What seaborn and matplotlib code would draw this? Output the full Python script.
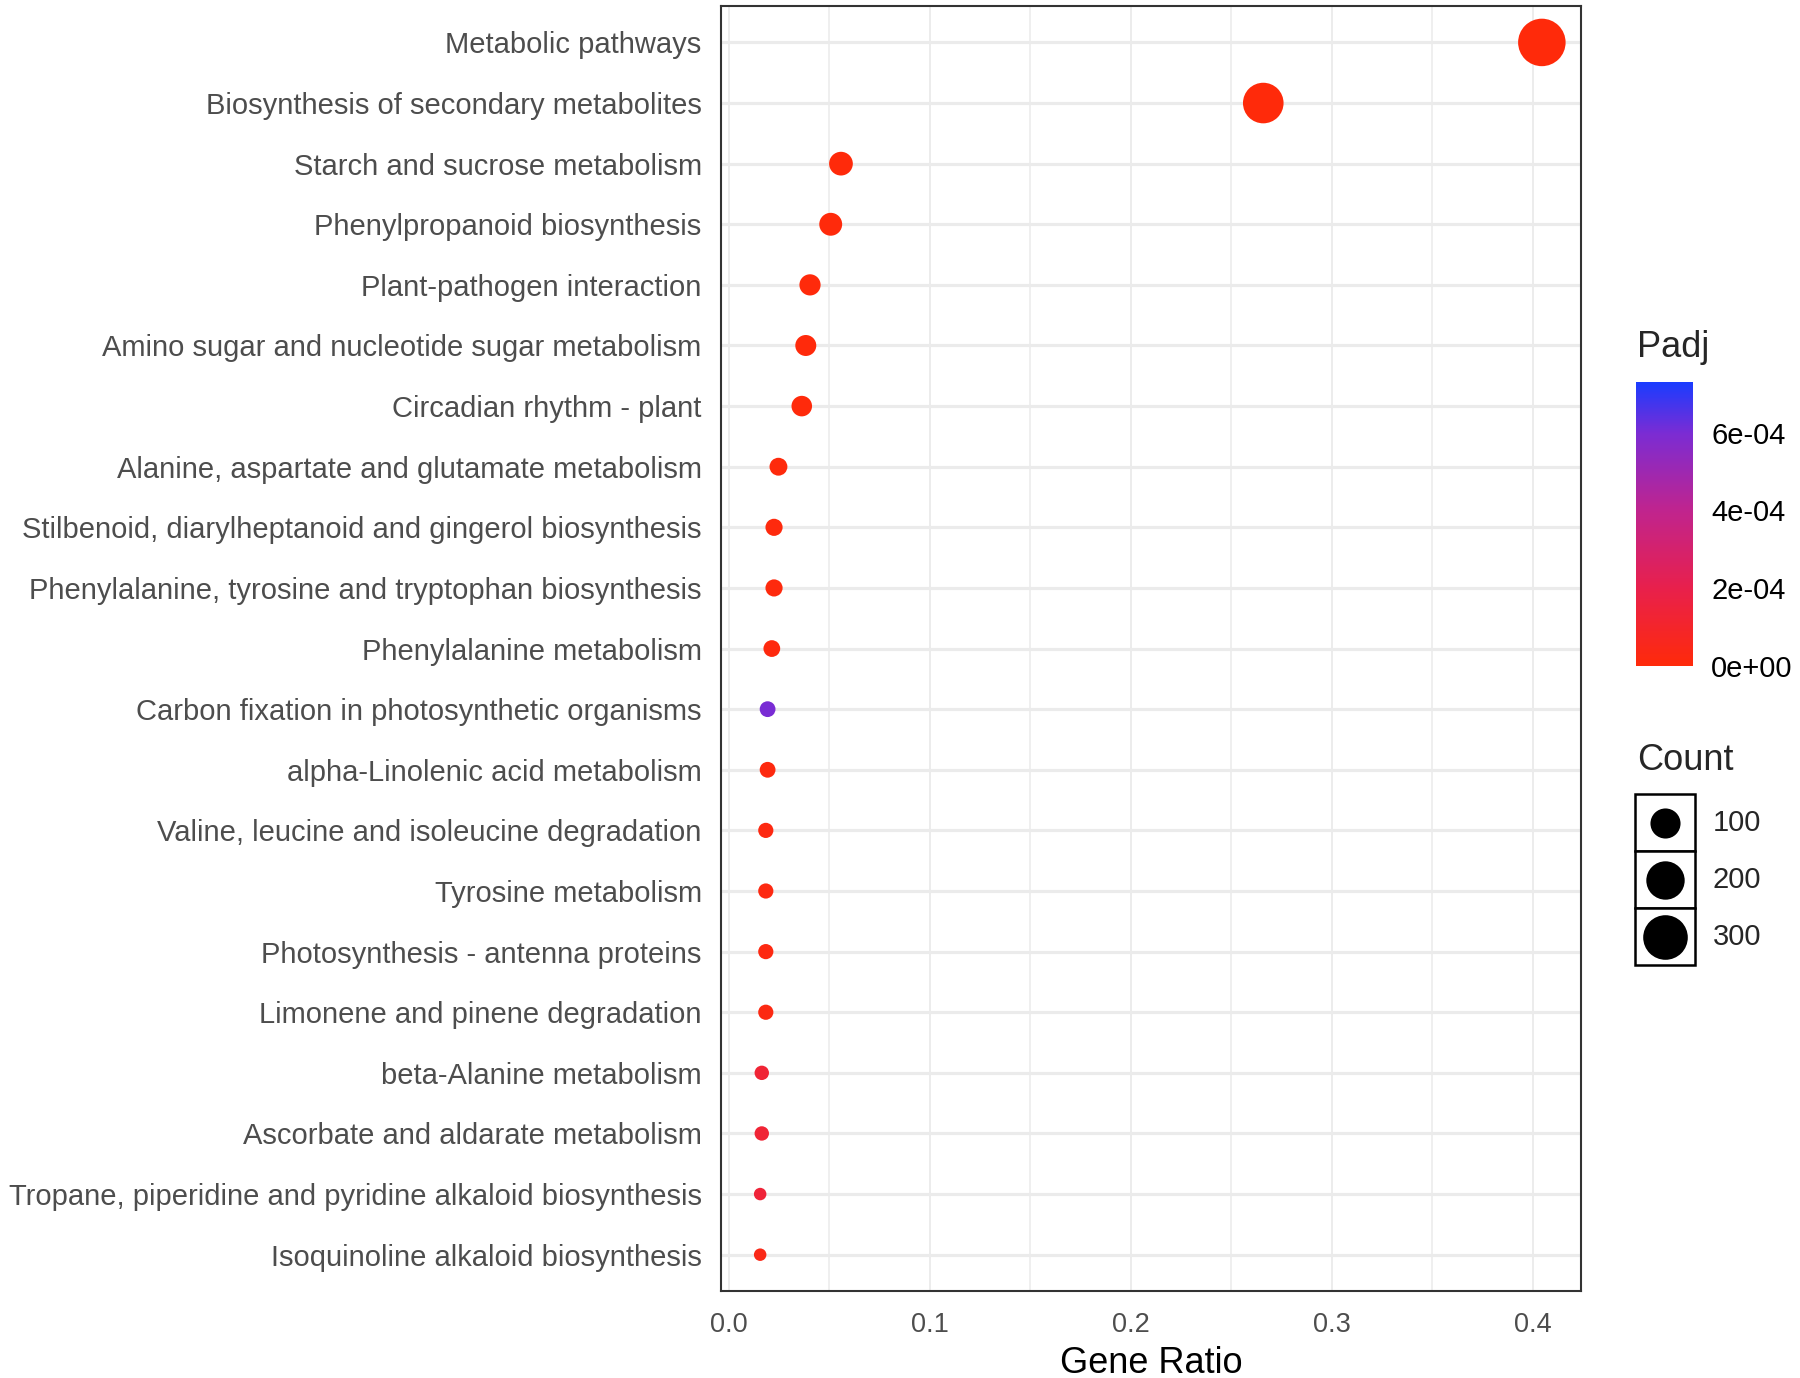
import matplotlib
matplotlib.use('Agg')
import matplotlib.pyplot as plt
import matplotlib.ticker as ticker
from matplotlib.colors import LinearSegmentedColormap, Normalize
from matplotlib.cm import ScalarMappable
from matplotlib.patches import Rectangle
import seaborn as sns
import numpy as np
import pandas as pd


# KEGG enrichment values
pathways = ['Metabolic pathways',
            'Biosynthesis of secondary metabolites',
            'Starch and sucrose metabolism',
            'Phenylpropanoid biosynthesis',
            'Plant-pathogen interaction',
            'Amino sugar and nucleotide sugar metabolism',
            'Circadian rhythm - plant',
            'Alanine, aspartate and glutamate metabolism',
            'Stilbenoid, diarylheptanoid and gingerol biosynthesis',
            'Phenylalanine, tyrosine and tryptophan biosynthesis',
            'Phenylalanine metabolism',
            'Carbon fixation in photosynthetic organisms',
            'alpha-Linolenic acid metabolism',
            'Valine, leucine and isoleucine degradation',
            'Tyrosine metabolism',
            'Photosynthesis - antenna proteins',
            'Limonene and pinene degradation',
            'beta-Alanine metabolism',
            'Ascorbate and aldarate metabolism',
            'Tropane, piperidine and pyridine alkaloid biosynthesis',
            'Isoquinoline alkaloid biosynthesis']
gene_ratio = [0.4046, 0.266, 0.0559, 0.0508, 0.0405, 0.0384, 0.0364, 0.0248, 0.0226, 0.0226, 0.0215,
              0.0194, 0.0194, 0.0185, 0.0185, 0.0185, 0.0185, 0.0165, 0.0165, 0.0157, 0.0157]
counts = [354, 233, 49, 44, 35, 34, 32, 22, 20, 20, 19, 17, 17, 16, 16, 16, 16, 15, 15, 14, 14]
padj = [1e-40, 1e-25, 2e-06, 3e-06, 4e-06, 3e-06, 5e-06, 8e-06, 1e-05, 1e-05, 1.2e-05,
        6.0e-04, 1.5e-05, 2.0e-05, 2.0e-05, 2.2e-05, 2.5e-05, 1.3e-04, 1.3e-04, 1.4e-04, 4e-05]
padj_ticks = [0, 2e-04, 4e-04, 6e-04]
padj_labels = ['0e+00', '2e-04', '4e-04', '6e-04']
count_breaks = [100, 200, 300]

df = pd.DataFrame({'Pathway': pathways, 'GeneRatio': gene_ratio, 'Count': counts, 'Padj': padj})

DPI = 100
sns.set_style('white')
plt.rcParams['font.family'] = ['Liberation Sans', 'DejaVu Sans']

# red -> blue gradient like ggplot's default Lab interpolation
cmap = LinearSegmentedColormap.from_list(
    'padj', [(0.0, '#FF2A0A'), (0.274, '#E8204C'), (0.548, '#C0248E'), (0.822, '#7A2CD4'), (1.0, '#1A3CFF')])
norm = Normalize(vmin=0, vmax=7.3e-04)

cmin, cmax = min(counts), max(counts)


def point_area(c):
    # ggplot style area scale: diameter grows with sqrt of rescaled count
    frac = np.clip((c - cmin) / (cmax - cmin), 0, None)
    d_px = 12.5 + 35.0 * np.sqrt(frac)
    return (d_px * 72 / DPI) ** 2


size_map = {c: point_area(c) for c in sorted(set(counts))}

fig = plt.figure(figsize=(18, 13.78), dpi=DPI)
ax = fig.add_axes([0.4006, 0.0631, 0.8783 - 0.4006, 0.9956 - 0.0631])

sns.scatterplot(data=df, x='GeneRatio', y='Pathway', hue='Padj', size='Count',
                palette=cmap, hue_norm=norm, sizes=size_map, legend=False,
                linewidth=0, ax=ax, zorder=3)

rng = max(gene_ratio) - min(gene_ratio)
ax.set_xlim(min(gene_ratio) - 0.05 * rng, max(gene_ratio) + 0.05 * rng)
ax.set_ylim(len(pathways) - 0.4, -0.6)
ax.xaxis.set_major_locator(ticker.MultipleLocator(0.1))
ax.xaxis.set_minor_locator(ticker.MultipleLocator(0.05))
ax.xaxis.set_major_formatter(ticker.FormatStrFormatter('%.1f'))

ax.set_axisbelow(True)
ax.grid(axis='y', which='major', color='#EBEBEB', linewidth=2.3)
ax.grid(axis='x', which='major', color='#EBEBEB', linewidth=1.3)
ax.grid(axis='x', which='minor', color='#EBEBEB', linewidth=1.1)
for sp in ax.spines.values():
    sp.set_color('#333333')
    sp.set_linewidth(1.5)

ax.tick_params(axis='y', length=7, width=1.8, color='#333333', pad=7, labelsize=21, labelcolor='#4D4D4D')
ax.tick_params(axis='x', which='major', length=7, width=1.4, color='#333333', pad=8,
               labelsize=19.5, labelcolor='#4D4D4D')
ax.tick_params(axis='x', which='minor', length=0)
ax.set_ylabel('')
ax.set_xlabel('Gene Ratio', fontsize=26, color='black', labelpad=6)

# Padj colour bar
cax = fig.add_axes([0.9089, 0.5167, 0.0317, 0.206])
cb = fig.colorbar(ScalarMappable(norm=norm, cmap=cmap), cax=cax)
cb.outline.set_visible(False)
cb.set_ticks(padj_ticks)
cb.set_ticklabels(padj_labels)
cax.tick_params(axis='y', direction='in', left=True, right=True, color='white',
                length=8, width=1.2, pad=13, labelsize=21, labelcolor='black')
fig.text(0.9094, 0.748, 'Padj', fontsize=26, va='center', ha='left')

# Count size legend
lax = fig.add_axes([0.9083, 0.2997, 0.0333, 0.1241])
lax.set_xlim(0, 1)
lax.set_ylim(len(count_breaks), 0)
lax.axis('off')
for i, c in enumerate(count_breaks):
    lax.add_patch(Rectangle((0, i), 1, 1, facecolor='white', edgecolor='black', linewidth=1.8,
                            clip_on=False))
    lax.scatter([0.5], [i + 0.5], s=point_area(c), color='black', linewidth=0, zorder=3)
    lax.text(1.3, i + 0.5, str(c), fontsize=21, va='center', ha='left')
fig.text(0.9094, 0.448, 'Count', fontsize=26, va='center', ha='left')

fig.savefig('out.png', dpi=DPI)
